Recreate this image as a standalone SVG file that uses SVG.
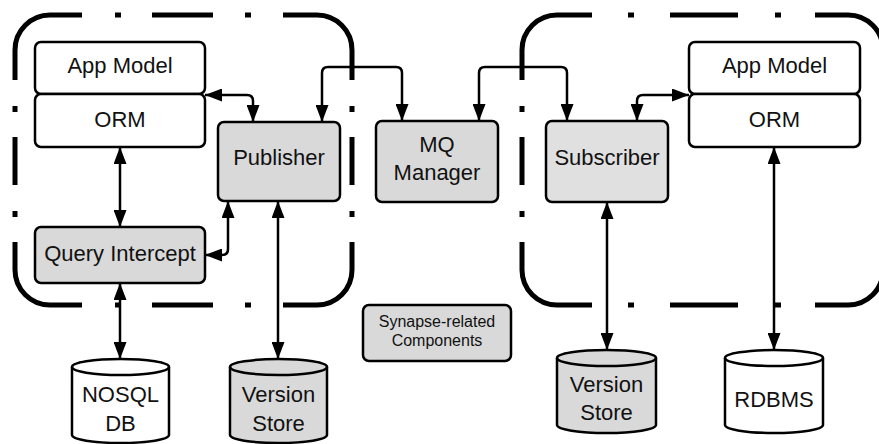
<svg xmlns="http://www.w3.org/2000/svg" width="879" height="444" viewBox="0 0 879 444">
  <style>
    .frame { fill: none; stroke: #000; stroke-width: 5; stroke-linecap: butt; }
    .box { stroke: #000; stroke-width: 2.5; }
    .white { fill: #fff; }
    .gray { fill: #d9d9d9; }
    .light { fill: #e0e0e0; }
    .lbl { font-family: "Liberation Sans", Arial, sans-serif; font-size: 22px; fill: #111; text-anchor: middle; }
    .small { font-size: 16px; }
    .conn { fill: none; stroke: #000; stroke-width: 2.5; marker-start: url(#arrow); marker-end: url(#arrow); }
  </style>
  <defs>
    <marker id="arrow" viewBox="0 0 17 13" refX="17" refY="6.5" markerWidth="17" markerHeight="13" markerUnits="userSpaceOnUse" orient="auto-start-reverse">
      <path d="M0,0 L17,6.5 L0,13 z" fill="#000"/>
    </marker>
  </defs>
  <rect width="879" height="444" fill="#fff"/>

  <!-- dash-dot boundary, publisher side -->
  <g id="frame-left" class="frame">
    <path d="M15,80 V50 A35,35 0 0 1 50,15 H82"/>
    <path d="M115,15 H121"/>
    <path d="M152,15 H213"/>
    <path d="M245,15 H251"/>
    <path d="M283,15 H317 A35,35 0 0 1 352,50 V80"/>
    <path d="M352,106 V112"/>
    <path d="M352,137 V185"/>
    <path d="M352,211 V217"/>
    <path d="M352,242 V270 A35,35 0 0 1 317,305 H283"/>
    <path d="M251,305 H245"/>
    <path d="M213,305 H152"/>
    <path d="M121,305 H115"/>
    <path d="M82,305 H50 A35,35 0 0 1 15,270 V242"/>
    <path d="M15,217 V211"/>
    <path d="M15,185 V137"/>
    <path d="M15,112 V106"/>
  </g>

  <!-- dash-dot boundary, subscriber side -->
  <g id="frame-right" class="frame">
    <path d="M522,80 V50 A35,35 0 0 1 557,15 H592"/>
    <path d="M628,15 H634"/>
    <path d="M670,15 H738"/>
    <path d="M775,15 H781"/>
    <path d="M815,15 H848 A35,35 0 0 1 883,50 V80"/>
    <path d="M883,242 V270 A35,35 0 0 1 848,305 H815"/>
    <path d="M781,305 H775"/>
    <path d="M738,305 H670"/>
    <path d="M634,305 H628"/>
    <path d="M592,305 H557 A35,35 0 0 1 522,270 V242"/>
    <path d="M522,217 V211"/>
    <path d="M522,185 V137"/>
    <path d="M522,112 V106"/>
  </g>

  <g id="app-model-left">
    <rect class="box white" x="35" y="42" width="170" height="52" rx="6"/>
    <text class="lbl" x="120" y="73">App Model</text>
  </g>
  <g id="orm-left">
    <rect class="box white" x="35" y="94" width="170" height="53" rx="6"/>
    <text class="lbl" x="120" y="127">ORM</text>
  </g>
  <g id="publisher">
    <rect class="box gray" x="218" y="122" width="122" height="79" rx="6"/>
    <text class="lbl" x="279" y="165">Publisher</text>
  </g>
  <g id="query-intercept">
    <rect class="box gray" x="35" y="227" width="170" height="56" rx="6"/>
    <text class="lbl" x="120" y="261">Query Intercept</text>
  </g>
  <g id="mq-manager">
    <rect class="box gray" x="376" y="121" width="122" height="81" rx="6"/>
    <text class="lbl" x="437" y="152">MQ</text>
    <text class="lbl" x="437" y="180">Manager</text>
  </g>
  <g id="subscriber">
    <rect class="box light" x="546" y="121" width="122" height="81" rx="6"/>
    <text class="lbl" x="607" y="165">Subscriber</text>
  </g>
  <g id="app-model-right">
    <rect class="box white" x="689" y="42" width="171" height="52" rx="6"/>
    <text class="lbl" x="774.5" y="73">App Model</text>
  </g>
  <g id="orm-right">
    <rect class="box white" x="689" y="94" width="171" height="53" rx="6"/>
    <text class="lbl" x="774.5" y="127">ORM</text>
  </g>
  <g id="legend">
    <rect class="box gray" x="363" y="305" width="148" height="56" rx="6"/>
    <text class="lbl small" x="437" y="327">Synapse-related</text>
    <text class="lbl small" x="437" y="346">Components</text>
  </g>

  <g id="nosql-db">
    <path class="box white" d="M72,367 A48.5,8 0 0 1 169,367 V435 A48.5,8 0 0 1 72,435 Z"/>
    <path class="box" fill="none" d="M72,367 A48.5,8 0 0 0 169,367"/>
    <text class="lbl" x="120.5" y="402">NOSQL</text>
    <text class="lbl" x="120.5" y="431">DB</text>
  </g>
  <g id="version-store-left">
    <path class="box gray" d="M230,367 A48.5,8 0 0 1 327,367 V435 A48.5,8 0 0 1 230,435 Z"/>
    <path class="box" fill="none" d="M230,367 A48.5,8 0 0 0 327,367"/>
    <text class="lbl" x="278.5" y="402">Version</text>
    <text class="lbl" x="278.5" y="431">Store</text>
  </g>
  <g id="version-store-right">
    <path class="box gray" d="M557,358 A49.5,8 0 0 1 656,358 V425 A49.5,8 0 0 1 557,425 Z"/>
    <path class="box" fill="none" d="M557,358 A49.5,8 0 0 0 656,358"/>
    <text class="lbl" x="606.5" y="392">Version</text>
    <text class="lbl" x="606.5" y="420">Store</text>
  </g>
  <g id="rdbms">
    <path class="box white" d="M725,358 A49,8 0 0 1 823,358 V425 A49,8 0 0 1 725,425 Z"/>
    <path class="box" fill="none" d="M725,358 A49,8 0 0 0 823,358"/>
    <text class="lbl" x="774" y="407">RDBMS</text>
  </g>

  <g id="connectors">
    <path class="conn" d="M205,95 H247 Q253,95 253,101 V122"/>
    <path class="conn" d="M322,122 V73 Q322,67 328,67 H396 Q402,67 402,73 V121"/>
    <path class="conn" d="M479,121 V73 Q479,67 485,67 H561 Q567,67 567,73 V121"/>
    <path class="conn" d="M637,121 V101 Q637,95 643,95 H689"/>
    <path class="conn" d="M120,147 V227"/>
    <path class="conn" d="M205,255 H222 Q228,255 228,249 V201"/>
    <path class="conn" d="M278,201 V359"/>
    <path class="conn" d="M120,283 V359"/>
    <path class="conn" d="M607,202 V350"/>
    <path class="conn" d="M774,147 V350"/>
  </g>
</svg>
